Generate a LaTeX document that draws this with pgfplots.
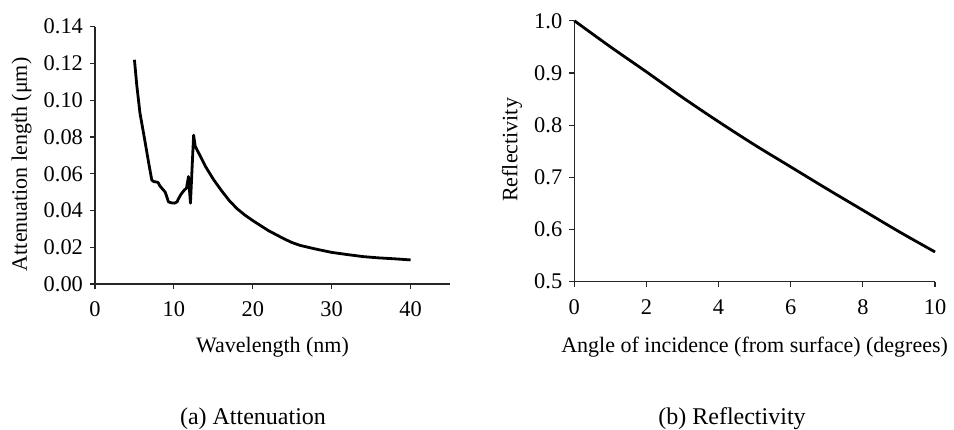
\documentclass[border=0pt]{standalone}
\usepackage{pgfplots}
\pgfplotsset{compat=1.18}
\usepackage{fontspec}
\setmainfont{Liberation Serif}
\pgfplotstableread{
x y
5 0.122
5.3 0.108
5.7 0.093
6.3 0.0785
6.8 0.066
7.2 0.0565
7.45 0.0557
7.8 0.0555
8.0 0.0552
8.2 0.0535
8.6 0.0515
8.9 0.0500
9.1 0.0475
9.3 0.0448
9.6 0.0442
10.1 0.0440
10.4 0.0447
10.6 0.0465
10.9 0.0488
11.3 0.0510
11.6 0.0522
11.85 0.0585
12.1 0.0440
12.5 0.0810
12.7 0.0750
13 0.0725
14 0.0640
15 0.0570
16 0.0510
17 0.0455
18 0.0410
19 0.0375
20 0.0345
22 0.0290
24 0.0245
25 0.0225
26 0.0210
28 0.0190
30 0.0172
32 0.0160
34 0.0149
36 0.0142
38 0.0137
40 0.0131
}\atten
\pgfplotstableread{
x y
0 1.000
1 0.950
2 0.902
3 0.853
4 0.8065
5 0.762
6 0.720
7 0.678
8 0.637
9 0.596
10 0.557
}\refl
\pgfplotsset{
  common/.style={
    scale only axis,
    axis lines*=left,
    tick align=outside,
    major tick length=2.5pt,
    axis line style={line width=0.6pt, black!85},
    every tick/.style={line width=0.6pt, black!85},
    tick label style={font=\fontsize{11.2}{13}\selectfont},
    label style={font=\fontsize{11}{13}\selectfont},
    /pgf/number format/assume math mode=true,
    xticklabel style={yshift=-3pt},
    clip=false,
  }
}
\begin{document}
\begin{tikzpicture}
\useasboundingbox (0,0) rectangle (477pt,214.5pt);
\begin{axis}[common,
  at={(47.5pt,72.5pt)}, anchor=south west,
  width=177.5pt, height=128.65pt,
  xmin=0, xmax=45, ymin=0, ymax=0.14,
  xtick={0,10,20,30,40},
  ytick={0,0.02,0.04,0.06,0.08,0.10,0.12,0.14},
  yticklabel style={/pgf/number format/.cd, fixed, fixed zerofill, precision=2},
  xlabel={Wavelength (nm)},
  ylabel={Attenuation length (μm)},
  xlabel style={at={(axis description cs:0.5,-0.245)}, anchor=center},
  ylabel style={at={(axis description cs:-0.207,0.465)}, anchor=center},
]
\addplot[black, line width=1.4pt, line join=round] table[x=x,y=y] {\atten};
\end{axis}
\begin{axis}[common,
  at={(287.15pt,73.65pt)}, anchor=south west,
  width=180.35pt, height=130.5pt,
  xmin=0, xmax=10, ymin=0.5, ymax=1.0,
  xtick={0,2,4,6,8,10},
  ytick={0.5,0.6,0.7,0.8,0.9,1.0},
  yticklabel style={/pgf/number format/.cd, fixed, fixed zerofill, precision=1},
  xlabel={Angle of incidence (from surface) (degrees)},
  ylabel={Reflectivity},
  xlabel style={at={(axis description cs:0.5,-0.25)}, anchor=center},
  ylabel style={at={(axis description cs:-0.173,0.505)}, anchor=center},
]
\addplot[black, line width=1.4pt, line join=round, smooth] table[x=x,y=y] {\refl};
\end{axis}
\node[font=\fontsize{12}{14}\selectfont] at (126.5pt,5pt) {(a) Attenuation};
\node[font=\fontsize{12}{14}\selectfont] at (366pt,5pt) {(b) Reflectivity};
\end{tikzpicture}
\end{document}
